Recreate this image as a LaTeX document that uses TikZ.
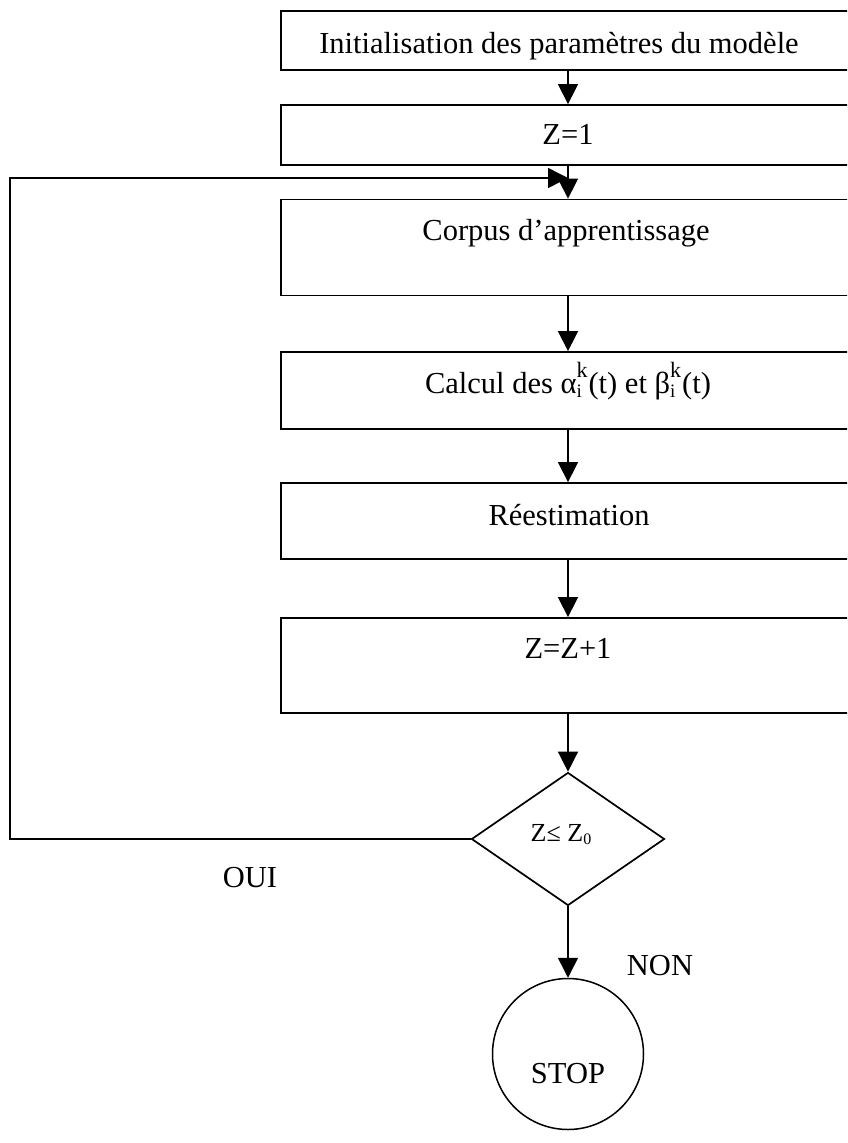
\documentclass[tikz,border=0pt]{standalone}
\usepackage{fontspec}
\setmainfont{Liberation Serif}
\usetikzlibrary{shapes.geometric,arrows.meta}
\newcommand{\mysubsup}[2]{\rlap{\raisebox{-0.35ex}{\fontsize{19}{19}\selectfont #1}}\raisebox{1.1ex}{\fontsize{22}{22}\selectfont #2}\kern1pt}
\begin{document}
\begin{tikzpicture}[x={(1pt,0pt)},y={(0pt,-1pt)},
  box/.style={draw, line width=1.8pt, minimum width=574pt, inner sep=0pt},
  lbl/.style={font=\fontsize{30.5}{34}\selectfont, inner sep=0pt, anchor=base},
  arr/.style={line width=1.5pt, -{Triangle[length=20pt,width=20pt]}}]
\useasboundingbox (0,0) rectangle (847,1143);
\clip (0,0) rectangle (847,1143);
\fill[white] (0,0) rectangle (847,1143);
% boxes
\node[box, minimum height=59pt] (b1) at (568,40.5) {};
\node[box, minimum height=60pt] (b2) at (568,135) {};
\node[box, minimum height=96pt] (b3) at (568,247.5) {};
\node[box, minimum height=77pt] (b4) at (568,390.5) {};
\node[box, minimum height=76pt] (b5) at (568,521) {};
\node[box, minimum height=95pt] (b6) at (568,665.5) {};
\node[draw, diamond, line width=1.7pt, minimum width=193pt, minimum height=133pt, aspect=1.45, inner sep=0pt] (dia) at (568,839) {};
\node[draw, circle, line width=1.5pt, minimum size=151pt, inner sep=0pt] (stop) at (568,1054) {};
% texts
\node[lbl] (t1) at (559,53) {Initialisation des paramètres du modèle};
\node[lbl] (t2) at (568,144) {Z=1};
\node[lbl] (t3) at (566,240) {Corpus d’apprentissage};
\node[lbl] (t4) at (568,393) {Calcul des α\mysubsup{i}{k}(t) et β\mysubsup{i}{k}(t)};
\node[lbl] (t5) at (569,525) {Réestimation};
\node[lbl] (t6) at (568,658) {Z=Z+1};
\node[lbl, font=\fontsize{26}{28}\selectfont] (td) at (561,841) {Z≤ Z\raisebox{-0.3ex}{\fontsize{16}{16}\selectfont 0}};
\node[lbl] (toui) at (250,887) {OUI};
\node[lbl] (tnon) at (660,975) {NON};
\node[lbl] (tstop) at (568,1083) {STOP};
% connectors
\coordinate (lx) at (10,178);
\coordinate (li) at (568,178);
\draw[arr] (b1.south) -- (b2.north);
\draw[arr] (b2.south) -- (b3.north);
\draw[arr] (b3.south) -- (b4.north);
\draw[arr] (b4.south) -- (b5.north);
\draw[arr] (b5.south) -- (b6.north);
\draw[arr] (b6.south) -- (dia.north);
\draw[arr] (dia.south) -- (stop.north);
\draw[arr] (dia.west) -| (lx) -- (li);
\end{tikzpicture}
\end{document}
